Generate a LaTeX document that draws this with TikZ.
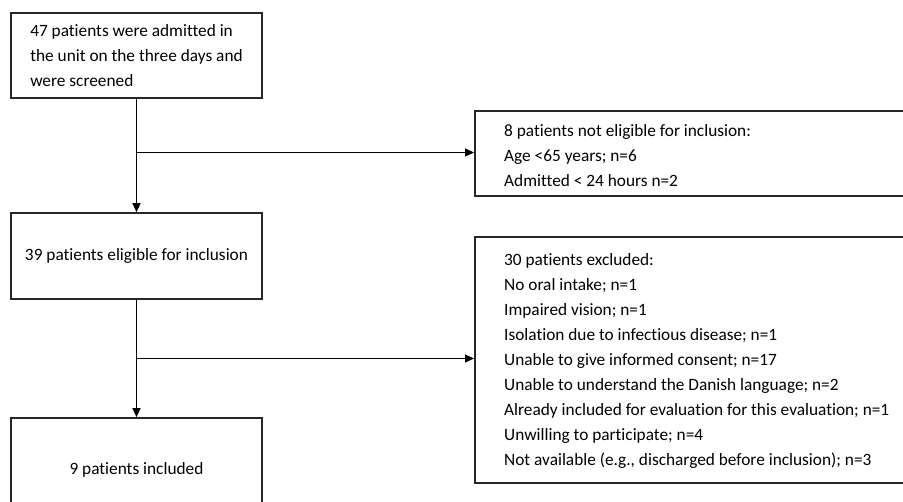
\documentclass[tikz,border=0pt]{standalone}
\usepackage{fontspec}
\setmainfont{Carlito}[Ligatures=CommonOff]
\usetikzlibrary{arrows.meta,positioning}
\tikzset{
  box/.style={draw=black!85, line width=1.6pt, minimum width=251pt, inner sep=0pt,
    font=\fontsize{17.3}{25}\selectfont, align=left},
  listtext/.style={font=\fontsize{17.3}{25}\selectfont, align=left, anchor=north west, inner sep=0pt},
  flow/.style={line width=1.2pt, -{Triangle[length=9pt,width=8pt]}}
}
\begin{document}
\begin{tikzpicture}[x=1pt,y=-1pt]
  \useasboundingbox (0,0) rectangle (903,502);
  \clip (0,0) rectangle (903,502);
  % Screened
  \node[box, minimum height=85pt] (screened) at (136.5,55.5)
    {47 patients were admitted in\\the unit on the three days and\\were screened};
  % Eligible
  \node[box, minimum height=86pt] (eligible) at (136.5,256)
    {39 patients eligible for inclusion};
  % Included
  \node[box, minimum height=104pt] (included) at (136.5,470)
    {9 patients included};
  % Not eligible
  \node[box, minimum width=460pt, minimum height=85pt, anchor=north west] (noteligible) at (474,110) {};
  \node[listtext] (noteligibletext) at (504,124.5)
    {8 patients not eligible for inclusion:\\Age <65 years; n=6\\Admitted < 24 hours n=2};
  % Excluded
  \node[box, minimum width=460pt, minimum height=246pt, anchor=north west] (excluded) at (474,236) {};
  \node[listtext] (excludedtext) at (504,253.5)
    {30 patients excluded:\\
     No oral intake; n=1\\
     Impaired vision; n=1\\
     Isolation due to infectious disease; n=1\\
     Unable to give informed consent; n=17\\
     Unable to understand the Danish language; n=2\\
     Already included for evaluation for this evaluation; n=1\\
     Unwilling to participate; n=4\\
     Not available (e.g., discharged before inclusion); n=3};
  % Branch points
  \coordinate (split1) at (136.5,152.5);
  \coordinate (split2) at (136.5,358.5);
  % Arrows
  \draw[flow] (screened) -- (eligible);
  \draw[flow] (eligible) -- (included);
  \draw[flow] (split1) -- (split1 -| noteligible.west);
  \draw[flow] (split2) -- (split2 -| excluded.west);
\end{tikzpicture}
\end{document}
